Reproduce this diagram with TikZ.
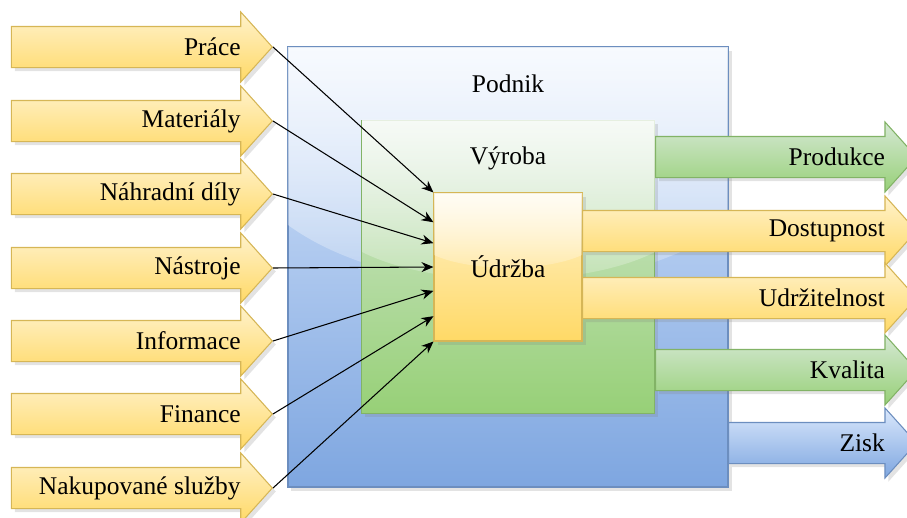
\documentclass[tikz,border=0pt]{standalone}
\usepackage{fontspec}
\setmainfont{Liberation Serif}
\usetikzlibrary{shapes.arrows, positioning, calc, shadows, fadings, arrows.meta}

\definecolor{blueFill}{HTML}{DAE8FC}
\definecolor{blueGrad}{HTML}{7EA6E0}
\definecolor{blueLine}{HTML}{6C8EBF}
\definecolor{greenFill}{HTML}{D5E8D4}
\definecolor{greenGrad}{HTML}{97D077}
\definecolor{greenLine}{HTML}{82B366}
\definecolor{yellowFill}{HTML}{FFF2CC}
\definecolor{yellowGrad}{HTML}{FFD966}
\definecolor{yellowLine}{HTML}{D6B656}

% glass highlight on the boxes
\tikzfading[name=glossfade, top color=transparent!20, bottom color=transparent!85]

\tikzset{
  shade/.style={drop shadow={shadow xshift=0.7mm, shadow yshift=-0.7mm, opacity=0.22}},
  box/.style={shade, line width=0.6pt, inner sep=0, font=\fontsize{14.5}{16}\selectfont},
  arr/.style={single arrow, single arrow head extend=0.29cm, single arrow tip angle=96,
    shape border rotate=0, inner xsep=0, inner ysep=0.4cm, line width=0.6pt, shade},
  yarr/.style={arr, draw=yellowLine, top color=yellowFill, bottom color=yellowGrad},
  garr/.style={arr, draw=greenLine, top color=greenFill, bottom color=greenGrad},
  barr/.style={arr, draw=blueLine, top color=blueFill, bottom color=blueGrad},
  lbl/.style={inner sep=0, font=\fontsize{14.5}{16}\selectfont},
  conn/.style={-{Stealth[length=2.4mm, width=2mm]}, line width=0.6pt},
}

\begin{document}
\begin{tikzpicture}[x=0.2mm, y=-0.2mm]
\clip (0,0) rectangle (907,517);

% nested boxes
\node[box, draw=blueLine, top color=blueFill, bottom color=blueGrad, minimum width=8.8cm, minimum height=8.8cm] (podnik) at (508,267) {};
\fill[white, path fading=glossfade] (288,47) -- (728,47) -- (728,225) .. controls (618,305) and (398,305) .. (288,225) -- cycle;
\node[lbl] at ($(podnik.north)+(0,37)$) {Podnik};

\node[box, draw=greenLine, top color=greenFill, bottom color=greenGrad, minimum width=5.86cm, minimum height=5.86cm] (vyroba) at (508,267) {};
\fill[white, path fading=glossfade] (362,120) -- (655,120) -- (655,252) .. controls (582,289) and (435,289) .. (362,252) -- cycle;
\node[lbl] at ($(vyroba.north)+(0,38)$) {Výroba};

\node[box, draw=yellowLine, top color=yellowFill, bottom color=yellowGrad, minimum width=2.96cm, minimum height=2.96cm] (udrzba) at (508,267) {};
\fill[white, path fading=glossfade] (434,193) -- (582,193) -- (582,255) .. controls (545,272) and (471,272) .. (434,255) -- cycle;
\node[lbl] at (udrzba) {Údržba};

% outputs
\node[garr, minimum height=5.22cm, anchor=tail] (produkce) at (655,157) {};
\node[yarr, minimum height=6.68cm, anchor=tail] (dostupnost) at (582,231) {};
\node[yarr, minimum height=6.68cm, anchor=tail] (udrzitelnost) at (582,298) {};
\node[garr, minimum height=5.22cm, anchor=tail] (kvalita) at (655,370) {};
\node[barr, minimum height=3.76cm, anchor=tail] (zisk) at (728,443) {};
\node[lbl, left=0.64cm of produkce.tip] {Produkce};
\node[lbl, left=0.64cm of dostupnost.tip] {Dostupnost};
\node[lbl, left=0.64cm of udrzitelnost.tip] {Udržitelnost};
\node[lbl, left=0.64cm of kvalita.tip] {Kvalita};
\node[lbl, left=0.64cm of zisk.tip] {Zisk};

% inputs
\node[yarr, minimum height=5.22cm, anchor=tip] (prace) at (273,47) {};
\node[yarr, minimum height=5.22cm, anchor=tip] (materialy) at (273,121) {};
\node[yarr, minimum height=5.22cm, anchor=tip] (dily) at (273,194) {};
\node[yarr, minimum height=5.22cm, anchor=tip] (nastroje) at (273,268) {};
\node[yarr, minimum height=5.22cm, anchor=tip] (informace) at (273,341) {};
\node[yarr, minimum height=5.22cm, anchor=tip] (finance) at (273,414) {};
\node[yarr, minimum height=5.22cm, anchor=tip] (sluzby) at (273,488) {};
\node[lbl, left=0.64cm of prace.tip] {Práce};
\node[lbl, left=0.64cm of materialy.tip] {Materiály};
\node[lbl, left=0.64cm of dily.tip] {Náhradní díly};
\node[lbl, left=0.64cm of nastroje.tip] {Nástroje};
\node[lbl, left=0.64cm of informace.tip] {Informace};
\node[lbl, left=0.64cm of finance.tip] {Finance};
\node[lbl, left=0.64cm of sluzby.tip] {Nakupované služby};

% connectors into maintenance
\draw[conn] (prace.tip) -- (udrzba.north west);
\draw[conn] (materialy.tip) -- ($(udrzba.north west)!0.2!(udrzba.south west)$);
\draw[conn] (dily.tip) -- ($(udrzba.north west)!0.34!(udrzba.south west)$);
\draw[conn] (nastroje.tip) -- (udrzba.west);
\draw[conn] (informace.tip) -- ($(udrzba.north west)!0.66!(udrzba.south west)$);
\draw[conn] (finance.tip) -- ($(udrzba.north west)!0.83!(udrzba.south west)$);
\draw[conn] (sluzby.tip) -- (udrzba.south west);
\end{tikzpicture}
\end{document}
